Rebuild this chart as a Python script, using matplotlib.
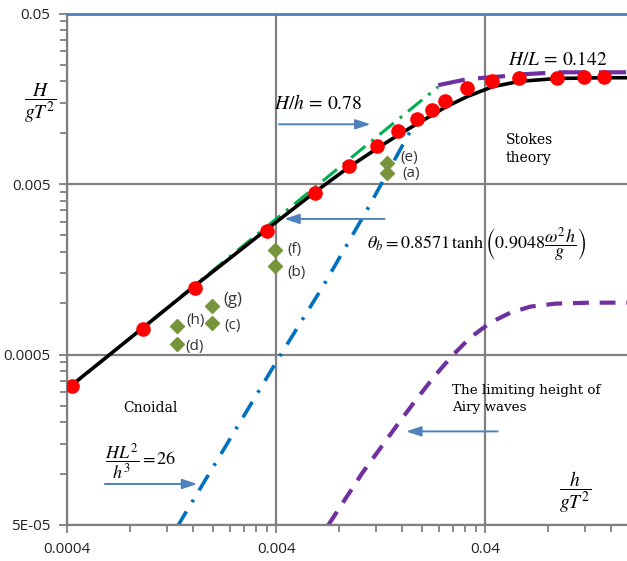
import matplotlib
matplotlib.use("Agg")
import matplotlib.pyplot as plt
from matplotlib.ticker import FixedLocator, FixedFormatter, NullFormatter

plt.rcParams['mathtext.fontset'] = 'stix'

# ---- data (h/gT^2, H/gT^2) ----
# breaking limit curve (black) and its computed points (red)
break_x = [0.0004, 0.000924, 0.00164, 0.00362, 0.00615, 0.00894, 0.01217, 0.01534,
           0.0189, 0.0223, 0.0257, 0.0328, 0.0432, 0.0582, 0.0884, 0.147, 0.19]
break_y = [0.000314, 0.000718, 0.00127, 0.00272, 0.0045, 0.0063, 0.0081, 0.0097,
           0.0113, 0.0127, 0.0141, 0.0163, 0.0186, 0.0200, 0.0208, 0.0210, 0.0210]
dots_x = [0.000423, 0.000924, 0.00164, 0.00362, 0.00615, 0.00894, 0.01217, 0.01534,
          0.0189, 0.0223, 0.0257, 0.0328, 0.0432, 0.0582, 0.0884, 0.1178, 0.147]
dots_y = [0.000325, 0.00071, 0.00123, 0.00266, 0.00443, 0.00637, 0.00834, 0.0102,
          0.0120, 0.01355, 0.0153, 0.0182, 0.0200, 0.0208, 0.0208, 0.0211, 0.0211]

# H/h = 0.78 (green) and H/L = 0.142 (purple)
shallow_x = [0.0004, 0.0238]
shallow_y = [0.000312, 0.0186]
steep_x = [0.0238, 0.0327, 0.048, 0.06, 0.09, 0.19]
steep_y = [0.0190, 0.0206, 0.0214, 0.0220, 0.0226, 0.0226]

# HL^2/h^3 = 26 (blue)
urs_x = [0.001344, 0.00404, 0.00672, 0.0110, 0.0175]
urs_y = [4.87e-5, 4.61e-4, 1.266e-3, 3.62e-3, 1.02e-2]

# limiting height of Airy waves (purple, lower)
airy_x = [0.00710, 0.00855, 0.01032, 0.01258, 0.01534, 0.01871, 0.0228, 0.0278,
          0.0339, 0.0423, 0.0527, 0.0657, 0.0865, 0.127, 0.19]
airy_y = [5.0e-5, 7.1e-5, 1.01e-4, 1.41e-4, 1.97e-4, 2.73e-4, 3.72e-4, 4.93e-4,
          6.29e-4, 7.70e-4, 8.80e-4, 9.55e-4, 9.94e-4, 1.007e-3, 1.007e-3]

# experimental cases
case_labels = ['(a)', '(b)', '(c)', '(d)', '(e)', '(f)', '(g)', '(h)']
case_x = [0.0136, 0.00396, 0.00198, 0.00134, 0.0136, 0.00396, 0.00198, 0.00134]
case_y = [0.0058, 0.00166, 0.00076, 0.00058, 0.00664, 0.00206, 0.000967, 0.000739]
label_offsets = [(11, 0), (9, -5), (9, -1.5), (6, -2), (9, 4), (9, 0), (8, 4), (7, 4)]

xticks = [0.0004, 0.004, 0.04]
xtick_labels = ['0.0004', '0.004', '0.04']
yticks = [5e-5, 5e-4, 5e-3, 5e-2]
ytick_labels = ['5E-05', '0.0005', '0.005', '0.05']

blue = '#4F81BD'
gray = '#808080'

fig = plt.figure(figsize=(6.27, 5.61), dpi=100)
ax = fig.add_axes([67/627, 1-525/561, 1-67/627, (525-13.5)/561])
ax.set_xscale('log')
ax.set_yscale('log')
ax.set_xlim(0.0004, 0.19)
ax.set_ylim(5e-5, 0.05)

ax.plot(shallow_x, shallow_y, color='#00B050', lw=2.2, dashes=(6, 2.5, 1, 2.5), zorder=2)
ax.plot(break_x, break_y, color='black', lw=2.6, zorder=3)
ax.plot(steep_x, steep_y, color='#7030A0', lw=3, dashes=(6.5, 3.2), zorder=3)
ax.plot(urs_x, urs_y, color='#0070C0', lw=2.6, dashes=(5, 3, 0.8, 3), zorder=2)
ax.plot(airy_x, airy_y, color='#7030A0', lw=3, dashes=(3.8, 2.6), zorder=2)
ax.plot(dots_x, dots_y, 'o', color='red', ms=9.5, zorder=4)
ax.plot(case_x, case_y, 'D', color='#77933C', ms=7, zorder=4)
for lab, cx, cy, off in zip(case_labels, case_x, case_y, label_offsets):
    ax.annotate(lab, (cx, cy), xytext=off, textcoords='offset points',
                va='center', fontsize=12 if lab == '(g)' else 11, family='Open Sans',
                color='#333333')

# axes styling
for s in ['left', 'bottom']:
    ax.spines[s].set_color(gray)
    ax.spines[s].set_linewidth(1.6)
ax.spines['top'].set_color(blue)
ax.spines['top'].set_linewidth(2)
ax.spines['right'].set_visible(False)

ax.xaxis.set_major_locator(FixedLocator(xticks))
ax.xaxis.set_major_formatter(FixedFormatter(xtick_labels))
ax.yaxis.set_major_locator(FixedLocator(yticks))
ax.yaxis.set_major_formatter(FixedFormatter(ytick_labels))
xminor = [b * k for b in xticks for k in range(2, 10)]
yminor = [b * k for b in yticks for k in range(2, 10)]
ax.xaxis.set_minor_locator(FixedLocator(xminor))
ax.yaxis.set_minor_locator(FixedLocator(yminor))
ax.xaxis.set_minor_formatter(NullFormatter())
ax.yaxis.set_minor_formatter(NullFormatter())
ax.tick_params(which='both', color=gray, width=1.3, labelsize=11, pad=6)
ax.tick_params(which='major', length=6)
ax.tick_params(which='minor', length=5)
for t in ax.get_xticklabels() + ax.get_yticklabels():
    t.set_family('Open Sans')
    t.set_color('#222222')
ax.grid(which='major', color=gray, lw=1.6)
ax.set_axisbelow(True)

# annotations
arrow = dict(arrowstyle='-|>,head_length=0.9,head_width=0.3', color=blue, lw=1.4)
ax.text(0.0039, 0.0149, r'$H/h\,=\,0.78$', fontsize=14, va='center')
ax.annotate('', xy=(0.01165, 0.0112), xytext=(0.004, 0.0112), arrowprops=arrow)
ax.text(0.0515, 0.0269, r'$H/L\,=\,0.142$', fontsize=14, va='center')
ax.text(0.0499, 0.0099, 'Stokes\ntheory', fontsize=10, va='top', family='DejaVu Serif',
        linespacing=1.3)
ax.text(0.0109, 0.00223,
        r'$\theta_b = 0.8571\,\tanh\left(0.9048\dfrac{\omega^2 h}{g}\right)$',
        fontsize=13, va='center')
ax.annotate('', xy=(0.00424, 0.00312), xytext=(0.0136, 0.00312), arrowprops=arrow)
ax.text(0.00074, 2.42e-4, 'Cnoidal', fontsize=10, va='center', family='DejaVu Serif')
ax.text(0.00061, 1.17e-4, r'$\dfrac{HL^2}{h^3}=26$', fontsize=13, va='center')
ax.annotate('', xy=(0.00173, 8.7e-5), xytext=(0.000588, 8.7e-5), arrowprops=arrow)
ax.text(0.0278, 3.35e-4, 'The limiting height of\nAiry waves', fontsize=9.7, va='top',
        family='DejaVu Serif', linespacing=1.35)
ax.annotate('', xy=(0.0162, 1.77e-4), xytext=(0.0472, 1.77e-4), arrowprops=arrow)
ax.text(0.1077, 7.8e-5, r'$\dfrac{h}{gT^2}$', fontsize=14, ha='center', va='center')
fig.text(40/627, 1-103/561, r'$\dfrac{H}{gT^2}$', fontsize=14, ha='center', va='center')

fig.savefig('out.png', dpi=100)
